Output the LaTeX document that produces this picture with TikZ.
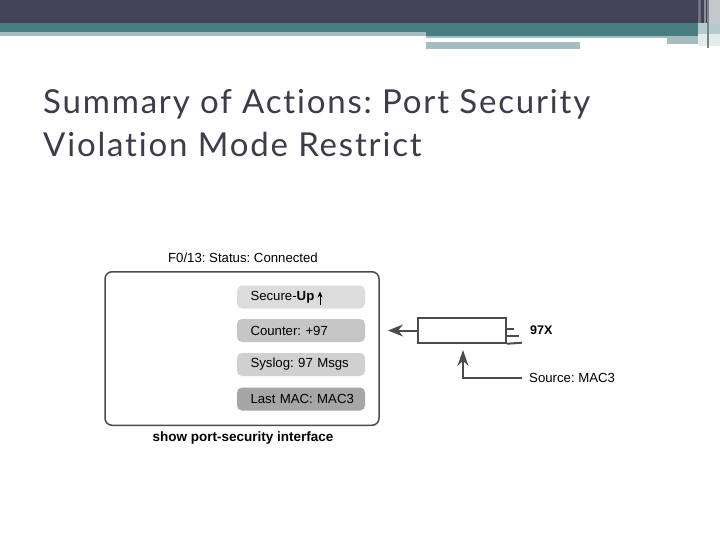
\documentclass[tikz,border=0pt]{standalone}
\usepackage{fontspec}
\setmainfont{Liberation Sans}
\newfontfamily\titlefont[LetterSpace=5.5,Ligatures=NoCommon]{Lato}
\newfontfamily\arialfont{Liberation Sans}
\usetikzlibrary{arrows.meta}
\definecolor{hdark}{RGB}{66,67,86}
\definecolor{hteal}{RGB}{70,126,130}
\definecolor{hlight}{RGB}{165,189,192}
\definecolor{titlegray}{RGB}{60,60,74}
\definecolor{linegray}{RGB}{75,75,75}
\definecolor{boxa}{RGB}{220,220,220}
\definecolor{boxb}{RGB}{198,198,198}
\definecolor{boxc}{RGB}{208,208,208}
\definecolor{boxd}{RGB}{166,166,166}
\tikzset{
  field/.style={rounded corners=5pt, minimum width=128pt, minimum height=23pt,
    inner sep=0pt, text width=118pt, align=left, font=\arialfont\fontsize{13.2}{15}\selectfont, text=black,
    execute at begin node={\hspace*{8.5pt}}},
  lbl/.style={font=\arialfont\fontsize{13.2}{15}\selectfont, text=black, inner sep=0pt},
  conn/.style={draw=linegray, line width=2pt},
}
\begin{document}
\frenchspacing
\begin{tikzpicture}[x=1pt,y=-1pt]
\useasboundingbox (0,0) rectangle (720,540);
\fill[white] (0,0) rectangle (720,540);
% header
\fill[hdark] (0,0) rectangle (720,23.5);
\fill[hteal] (0,23.5) rectangle (720,34);
\fill[hteal] (426,34) rectangle (720,36);
\fill[hlight] (0,32) rectangle (426,36);
\fill[hlight] (426,36) rectangle (698,38.3);
\fill[hlight] (426,41.7) rectangle (580,49);
\fill[hlight] (667,38.3) rectangle (698,44);
\fill[white] (426,38.3) rectangle (667,41.7);
\fill[white!70!hdark] (709,0) rectangle (720,23.5);
\fill[white!60!hteal] (698,23.5) rectangle (720,34);
\fill[white!85!hteal] (698,34) rectangle (720,46);
\fill[white!25!hdark] (698,0) rectangle (701,23.5);
\fill[white!40!hdark] (704,0) rectangle (706,23.5);
\draw[gray, line width=1.2pt] (708,0) -- (708,48);
% title
\node[anchor=base west, inner sep=0pt, text=titlegray, font=\titlefont\fontsize{33}{40}\selectfont] (t1) at (43,114) {Summary of Actions: Port Security};
\node[anchor=base west, inner sep=0pt, text=titlegray, font=\titlefont\fontsize{33}{40}\selectfont] (t2) at (43,157) {Violation Mode Restrict};
% left panel
\node[draw=linegray, line width=1.5pt, rounded corners=7pt, minimum width=274pt, minimum height=153.5pt, inner sep=0pt] (panel) at (242,348.5) {};
\node[lbl] (status) at (243,258) {F0/13: Status: Connected};
\node[field, fill=boxa] (f1) at (301,297) {Secure-\textbf{Up}};
\draw[black, line width=0.9pt, -{Stealth[length=6pt,width=5pt]}] (320,304.5) -- (320,291.5);
\node[field, fill=boxb] (f2) at (301,330.5) {Counter: +97};
\node[field, fill=boxc] (f3) at (301,364.5) {Syslog: 97 Msgs};
\node[field, fill=boxd] (f4) at (301,399) {Last MAC: MAC3};
\node[lbl, font=\arialfont\bfseries\fontsize{13.5}{15}\selectfont] (cmd) at (243,438) {show port-security interface};
% right side
\node[draw=linegray, line width=2pt, minimum width=88pt, minimum height=24.5pt, inner sep=0pt] (rx) at (462,330.5) {};
\coordinate (ae) at (388,330.5);
\draw[conn, -{Stealth[length=15pt,width=12pt]}] (rx.west) -- (ae);
\coordinate (l1) at (514,329.3);
\coordinate (l2) at (519,335.7);
\coordinate (l3) at (522,342.7);
\draw[conn] (rx.east |- l1) -- (l1);
\draw[conn] (rx.east |- l2) -- (l2);
\draw[conn] (rx.south east) -- (l3);
\node[lbl, anchor=west, font=\arialfont\bfseries\fontsize{12.5}{15}\selectfont] (x97) at (530,330) {97X};
\coordinate (src) at (522,378);
\coordinate (corner) at (463,378);
\coordinate (up) at (463,350);
\draw[conn, -{Stealth[length=16pt,width=11pt]}] (src) -- (corner) -- (up);
\node[lbl, anchor=west] (srcl) at (529,378) {Source: MAC3};
\end{tikzpicture}
\end{document}
